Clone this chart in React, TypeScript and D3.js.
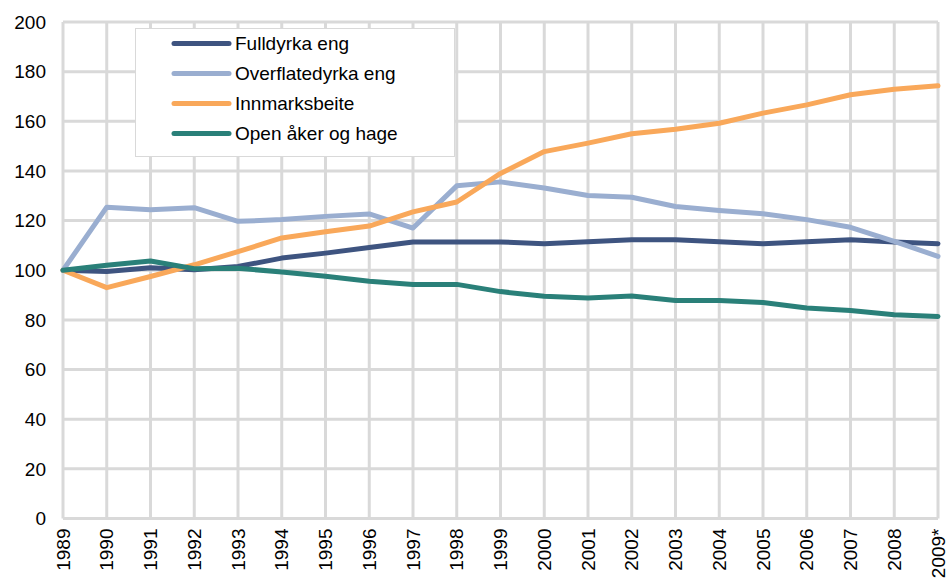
import React, { useEffect, useRef } from 'react';
import * as d3 from 'd3';

const years = ['1989', '1990', '1991', '1992', '1993', '1994', '1995', '1996', '1997', '1998', '1999',
  '2000', '2001', '2002', '2003', '2004', '2005', '2006', '2007', '2008', '2009*'];

const fulldyrka = [100, 99.5, 101, 100.2, 101.5, 104.9, 106.9, 109.2, 111.4, 111.4, 111.4,
  110.7, 111.5, 112.3, 112.3, 111.5, 110.7, 111.5, 112.3, 111.4, 110.7];
const overflatedyrka = [100, 125.4, 124.4, 125.2, 119.7, 120.4, 121.7, 122.7, 117, 134, 135.6,
  133.1, 130.1, 129.4, 125.7, 124.1, 122.8, 120.4, 117.3, 111.6, 105.6];
const innmarksbeite = [100, 93, 97.5, 102.2, 107.5, 113, 115.5, 117.8, 123.5, 127.5, 139,
  147.8, 151.2, 155, 156.8, 159.2, 163.3, 166.6, 170.7, 172.9, 174.3];
const openAker = [100, 102, 103.7, 100.6, 100.8, 99.3, 97.6, 95.6, 94.3, 94.3, 91.4,
  89.5, 88.8, 89.6, 87.8, 87.8, 87, 84.8, 83.8, 82.1, 81.4];

const seriesNames = ['Fulldyrka eng', 'Overflatedyrka eng', 'Innmarksbeite', 'Open åker og hage'];
const seriesValues = [fulldyrka, overflatedyrka, innmarksbeite, openAker];
const colors = ['#3e5480', '#9aaed0', '#f9a85a', '#2a8079'];
const yTicks = [0, 20, 40, 60, 80, 100, 120, 140, 160, 180, 200];

function App() {
  const svgRef = useRef<SVGSVGElement>(null);

  useEffect(() => {
    const svg = d3.select(svgRef.current);
    svg.selectAll('*').remove();

    const width = 946;
    const height = 580;
    const margin = { top: 22, right: 8, bottom: 61.5, left: 63 };
    const font = '"Liberation Sans", Arial, sans-serif';

    const x = d3.scalePoint<string>().domain(years).range([margin.left, width - margin.right]);
    const y = d3.scaleLinear().domain([0, 200]).range([height - margin.bottom, margin.top]);

    // grid
    svg.append('g')
      .selectAll('line')
      .data(yTicks)
      .enter()
      .append('line')
      .attr('x1', margin.left)
      .attr('x2', width - margin.right)
      .attr('y1', d => y(d))
      .attr('y2', d => y(d))
      .attr('stroke', '#d9d9d9')
      .attr('stroke-width', 3);

    svg.append('g')
      .selectAll('line')
      .data(years)
      .enter()
      .append('line')
      .attr('x1', d => x(d)!)
      .attr('x2', d => x(d)!)
      .attr('y1', y(200))
      .attr('y2', y(0))
      .attr('stroke', '#d9d9d9')
      .attr('stroke-width', 3);

    // y labels
    svg.append('g')
      .selectAll('text')
      .data(yTicks)
      .enter()
      .append('text')
      .attr('x', 46)
      .attr('y', d => y(d))
      .attr('dy', '0.35em')
      .attr('text-anchor', 'end')
      .style('font-family', font)
      .style('font-size', '19px')
      .style('fill', '#000')
      .text(d => d);

    // x labels, rotated
    svg.append('g')
      .selectAll('text')
      .data(years)
      .enter()
      .append('text')
      .attr('transform', d => `translate(${x(d)},${y(0) + 10}) rotate(-90)`)
      .attr('dy', '0.35em')
      .attr('text-anchor', 'end')
      .style('font-family', font)
      .style('font-size', '19px')
      .style('fill', '#000')
      .text(d => d);

    const line = d3.line<number>()
      .x((_, i) => x(years[i])!)
      .y(d => y(d));

    seriesValues.forEach((vals, i) => {
      svg.append('path')
        .datum(vals)
        .attr('fill', 'none')
        .attr('stroke', colors[i])
        .attr('stroke-width', 5)
        .attr('stroke-linejoin', 'round')
        .attr('stroke-linecap', 'round')
        .attr('d', line);
    });

    // legend
    const lg = svg.append('g');
    lg.append('rect')
      .attr('x', 135.5)
      .attr('y', 28.5)
      .attr('width', 319)
      .attr('height', 128)
      .attr('fill', '#fff')
      .attr('stroke', '#d9d9d9')
      .attr('stroke-width', 1);

    seriesNames.forEach((name, i) => {
      const cy = 43.5 + i * 30;
      lg.append('line')
        .attr('x1', 174)
        .attr('x2', 229)
        .attr('y1', cy)
        .attr('y2', cy)
        .attr('stroke', colors[i])
        .attr('stroke-width', 5)
        .attr('stroke-linecap', 'round');
      lg.append('text')
        .attr('x', 235)
        .attr('y', cy)
        .attr('dy', '0.35em')
        .style('font-family', font)
        .style('font-size', '19px')
        .style('fill', '#000')
        .text(name);
    });
  }, []);

  return (
    <svg ref={svgRef} width={946} height={580}
      style={{ position: 'absolute', left: 0, top: 0, background: '#fff' }} />
  );
}

export default App;
